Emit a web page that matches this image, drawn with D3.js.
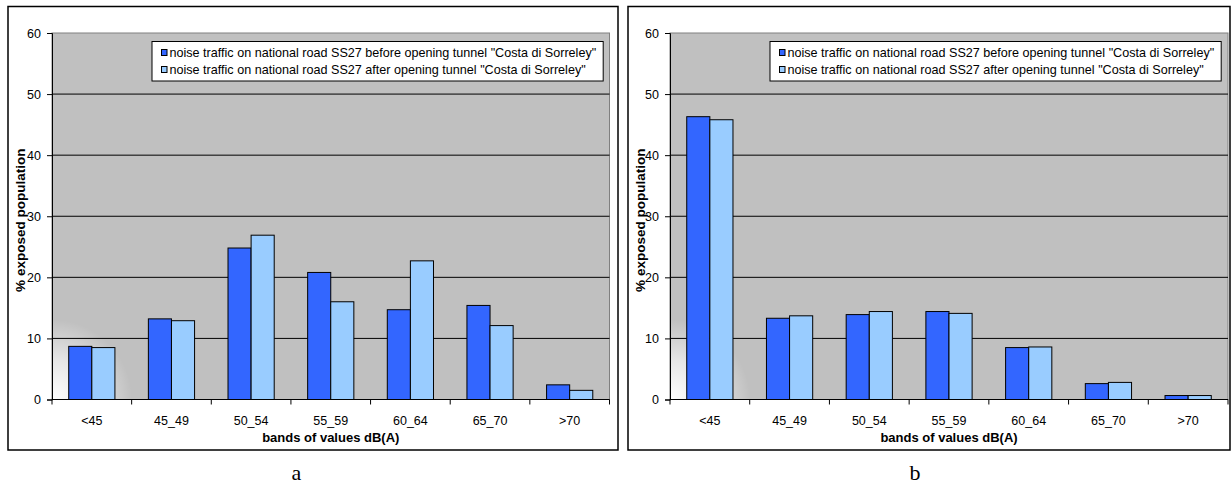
<!DOCTYPE html>
<html>
<head>
<meta charset="utf-8">
<script src="https://cdn.jsdelivr.net/npm/d3@7"></script>
<style>
  html, body { margin: 0; padding: 0; background: #fff; }
  svg { display: block; }
</style>
</head>
<body>
<svg id="chart" width="1231" height="486" font-family="Liberation Sans, Arial, sans-serif"></svg>
<script>
// ---------- data ----------
const categories = ["<45", "45_49", "50_54", "55_59", "60_64", "65_70", ">70"];
const seriesNames = [
  'noise traffic on national road SS27 before opening tunnel "Costa di Sorreley"',
  'noise traffic on national road SS27 after opening tunnel "Costa di Sorreley"'
];
const beforeA = [8.7, 13.2, 24.8, 20.8, 14.7, 15.4, 2.4];
const afterA  = [8.5, 12.9, 26.9, 16.0, 22.7, 12.1, 1.5];
const beforeB = [46.3, 13.3, 13.9, 14.4, 8.5, 2.6, 0.65];
const afterB  = [45.8, 13.7, 14.4, 14.1, 8.6, 2.8, 0.65];
const yTicks = [0, 10, 20, 30, 40, 50, 60];
const yTitle = "% exposed population";
const xTitle = "bands of values dB(A)";
const captions = ["a", "b"];

const colors = ["#3366ff", "#99ccff"];
const svg = d3.select("#chart");
const defs = svg.append("defs");
const SANS = "Liberation Sans, Arial, sans-serif";

function drawPanel(id, before, after, L, caption) {
  const g = svg.append("g");
  // frame
  g.append("rect").attr("x", L.fx0).attr("y", L.fy0)
    .attr("width", L.fx1 - L.fx0).attr("height", L.fy1 - L.fy0)
    .attr("fill", "#fff").attr("stroke", "#000").attr("stroke-width", 1.5);

  const y = d3.scaleLinear().domain([0, 60]).range([L.bottom, L.top]);
  const x0 = d3.scaleBand().domain(categories).range([L.left, L.right])
    .paddingInner(0.42).paddingOuter(0.21);
  const x1 = d3.scaleBand().domain([0, 1]).range([0, x0.bandwidth()]);

  // plot area
  g.append("rect").attr("x", L.left).attr("y", L.top)
    .attr("width", L.right - L.left).attr("height", L.bottom - L.top)
    .attr("fill", "#c0c0c0").attr("stroke", "#808080").attr("stroke-width", 1);

  // soft light in lower-left corner
  const gid = "glow" + id;
  const rg = defs.append("radialGradient").attr("id", gid)
    .attr("gradientUnits", "userSpaceOnUse")
    .attr("cx", L.left).attr("cy", L.bottom).attr("r", 80);
  rg.append("stop").attr("offset", 0).attr("stop-color", "#fff").attr("stop-opacity", 1);
  rg.append("stop").attr("offset", 0.5).attr("stop-color", "#fff").attr("stop-opacity", 0.6);
  rg.append("stop").attr("offset", 1).attr("stop-color", "#fff").attr("stop-opacity", 0);
  g.append("rect").attr("x", L.left).attr("y", L.bottom - 85)
    .attr("width", 85).attr("height", 85).attr("fill", `url(#${gid})`);

  // gridlines
  g.selectAll(".grid").data(yTicks.filter(t => t > 0 && t < 60)).enter()
    .append("line")
    .attr("x1", L.left).attr("x2", L.right)
    .attr("y1", d => y(d)).attr("y2", d => y(d))
    .attr("stroke", "#000").attr("stroke-width", 1);

  // y axis
  const yAxis = d3.axisLeft(y).tickValues(yTicks).tickSize(5).tickPadding(6);
  const ya = g.append("g").attr("transform", `translate(${L.left},0)`).call(yAxis);
  ya.attr("font-family", SANS).attr("font-size", 12.5);
  ya.select(".domain").attr("stroke", "#000");
  ya.selectAll("text").attr("fill", "#000");

  // bars
  const rows = categories.map((c, i) => ({ c, v: [before[i], after[i]] }));
  const grp = g.selectAll(".cat").data(rows).enter().append("g")
    .attr("transform", d => `translate(${x0(d.c)},0)`);
  grp.selectAll("rect").data(d => d.v.map((v, k) => ({ v, k }))).enter()
    .append("rect")
    .attr("x", d => x1(d.k)).attr("width", x1.bandwidth())
    .attr("y", d => y(d.v)).attr("height", d => y(0) - y(d.v))
    .attr("fill", d => colors[d.k]).attr("stroke", "#000").attr("stroke-width", 1);

  // x axis
  const xa = g.append("g").attr("transform", `translate(0,${L.bottom})`);
  xa.append("line").attr("x1", L.left).attr("x2", L.right).attr("y1", 0).attr("y2", 0)
    .attr("stroke", "#000").attr("stroke-width", 1);
  const step = x0.step();
  const boundaries = d3.range(categories.length + 1).map(i => L.left + i * step);
  xa.selectAll(".tk").data(boundaries).enter().append("line")
    .attr("x1", d => d).attr("x2", d => d).attr("y1", 0).attr("y2", 5)
    .attr("stroke", "#000");
  xa.selectAll(".lbl").data(categories).enter().append("text")
    .attr("x", d => x0(d) + x0.bandwidth() / 2).attr("y", 25)
    .attr("text-anchor", "middle").attr("font-size", 12.5).text(d => d);

  // axis titles
  g.append("text").attr("x", (L.left + L.right) / 2).attr("y", L.bottom + 42)
    .attr("text-anchor", "middle").attr("font-size", 13).attr("font-weight", "bold")
    .text(xTitle);
  g.append("text")
    .attr("transform", `translate(${L.fx0 + 17},${(L.top + L.bottom) / 2 + 4}) rotate(-90)`)
    .attr("text-anchor", "middle").attr("font-size", 13.5).attr("font-weight", "bold")
    .text(yTitle);

  // legend
  const lg = g.append("g");
  const box = lg.append("rect").attr("x", L.lx).attr("y", 41.5)
    .attr("height", 39.5).attr("fill", "#fff").attr("stroke", "#000").attr("stroke-width", 1);
  let maxW = 0;
  seriesNames.forEach((s, k) => {
    const cy = 52.5 + k * 17;
    lg.append("rect").attr("x", L.lx + 9.5).attr("y", cy - 3).attr("width", 5.5).attr("height", 6)
      .attr("fill", colors[k]).attr("stroke", "#000").attr("stroke-width", 1);
    const t = lg.append("text").attr("x", L.lx + 17.5).attr("y", cy + 4.5)
      .attr("font-size", 12.6).text(s);
    maxW = Math.max(maxW, t.node().getComputedTextLength());
  });
  box.attr("width", 17.5 + maxW + 7);

  // caption
  svg.append("text").attr("x", L.capX).attr("y", 480).attr("text-anchor", "middle")
    .attr("font-family", "Liberation Serif, Times New Roman, serif").attr("font-size", 22)
    .text(caption);
}

drawPanel("a", beforeA, afterA,
  { fx0: 8, fx1: 618, fy0: 6.5, fy1: 450, left: 52, right: 609.5, top: 33, bottom: 399.5, lx: 152, capX: 296.5 },
  captions[0]);
drawPanel("b", beforeB, afterB,
  { fx0: 628, fx1: 1230, fy0: 6.5, fy1: 450, left: 670, right: 1228, top: 33, bottom: 399.5, lx: 770, capX: 915 },
  captions[1]);
</script>
</body>
</html>
